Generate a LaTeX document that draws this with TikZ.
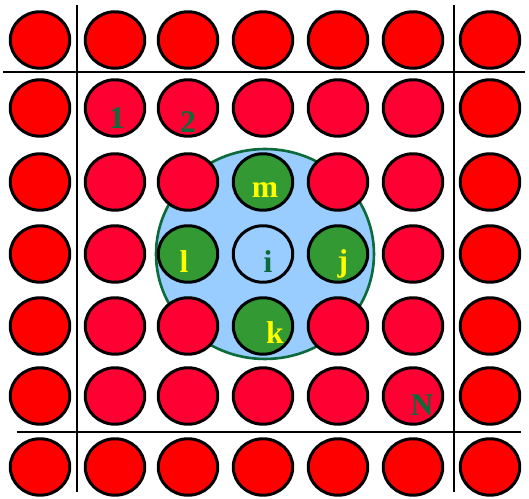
\documentclass[tikz,border=0pt]{standalone}
\usepackage{fontspec}
\setmainfont{Liberation Serif}
\usetikzlibrary{shapes.geometric}
\definecolor{ptred}{HTML}{FF0000}
\definecolor{ptcrimson}{HTML}{FF0033}
\definecolor{ptgreen}{HTML}{339933}
\definecolor{ptdark}{HTML}{0B6B3A}
\definecolor{ptsky}{HTML}{99CCFF}
\definecolor{ptyellow}{HTML}{FFFF00}

\begin{document}
\begin{tikzpicture}[
  x=0.02cm, y=-0.02cm,
  cell/.style={
    ellipse, draw=black, line width=1.7pt,
    minimum width=1.19cm, minimum height=1.13cm, inner sep=0pt
  },
  hood/.style={
    ellipse, draw=ptdark, line width=1.5pt, fill=ptsky,
    minimum width=4.36cm, minimum height=4.2cm
  },
  tag/.style={font=\fontsize{18}{20}\selectfont\bfseries, inner sep=0pt},
  wall/.style={black, line width=1.6pt},
]
  \useasboundingbox (0,0) rectangle (529,499);

  % Grenzen der Simulationsbox
  \coordinate (lt) at (77,5);    \coordinate (lb) at (77,492);
  \coordinate (rt) at (454,5);   \coordinate (rb) at (454,492);
  \coordinate (tl) at (3,72);    \coordinate (tr) at (525,72);
  \coordinate (bl) at (17,432);  \coordinate (br) at (521,432);
  \draw[wall] (lt) -- (lb);
  \draw[wall] (rt) -- (rb);
  \draw[wall] (tl) -- (tr);
  \draw[wall] (bl) -- (br);

  % Nachbarschaft von Teilchen i
  \node[hood] (nbh) at (265,254) {};

  % Teilchengitter (Rand rot, innen karmin)
  \foreach \y [count=\r from 0] in {40,108,182,254,326,396,467} {
    \foreach \x [count=\c from 0] in {40,115,188,263,338,413,490} {
      \pgfmathtruncatemacro\onrim{or(or(\r==0,\r==6),or(\c==0,\c==6))}
      \pgfmathtruncatemacro\inhub{abs(\r-3)+abs(\c-3)<2}
      \ifnum\inhub=0
        \ifnum\onrim=1
          \node[cell, fill=ptred] (c\r\c) at (\x,\y) {};
        \else
          \node[cell, fill=ptcrimson] (c\r\c) at (\x,\y) {};
        \fi
      \fi
    }
  }

  % Teilchen i und seine Nachbarn
  \node[cell] (i) at (263,254) {};
  \node[cell, fill=ptgreen] (m) at (263,182) {};
  \node[cell, fill=ptgreen] (l) at (188,254) {};
  \node[cell, fill=ptgreen] (j) at (338,254) {};
  \node[cell, fill=ptgreen] (k) at (263,326) {};

  % Beschriftungen
  \node[tag, text=ptdark] (t1) at (117,118) {1};
  \node[tag, text=ptdark] (t2) at (188,122) {2};
  \node[tag, text=ptdark] (tN) at (422,405) {N};
  \node[tag, text=ptdark] (ti) at (268,262) {i};
  \node[tag, text=ptyellow] (tm) at (265,190) {m};
  \node[tag, text=ptyellow] (tl) at (184,262) {l};
  \node[tag, text=ptyellow] (tj) at (343,264) {j};
  \node[tag, text=ptyellow] (tk) at (275,333) {k};
\end{tikzpicture}
\end{document}
